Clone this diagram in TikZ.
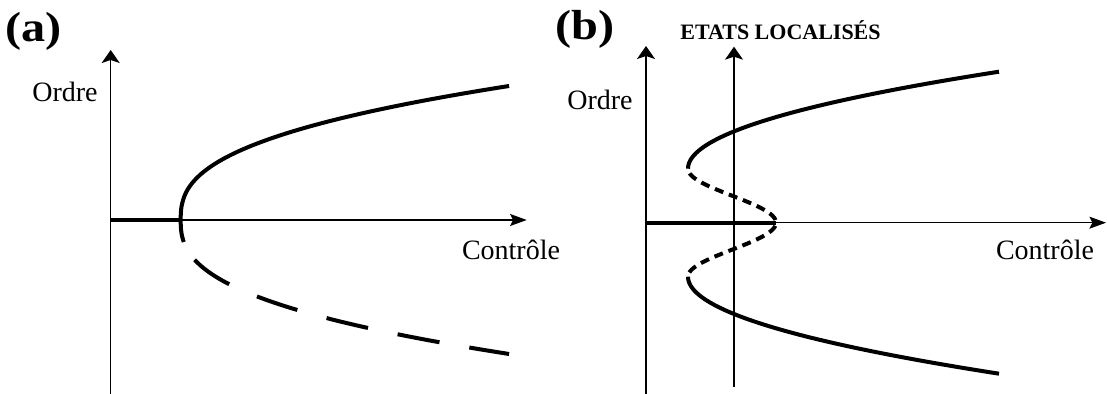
\documentclass[tikz,border=0pt]{standalone}
\usepackage{fontspec}
\setmainfont{Liberation Serif}
\usepackage{graphicx}
\usetikzlibrary{arrows.meta}
\tikzset{
  axisv/.style={line width=0.7pt, -{Stealth[length=6.5pt, width=9pt, inset=1.5pt]}},
  axish/.style={line width=0.7pt, -{Stealth[length=8.3pt, width=6pt, inset=1.5pt]}},
  branch/.style={line width=2pt},
  unstable/.style={line width=2pt, dash pattern=#1},
  lbl/.style={font=\fontsize{14}{16}\selectfont, anchor=base, inner sep=0pt},
  panel/.style={font=\fontsize{21}{23}\selectfont\bfseries, anchor=base, inner sep=0pt},
  note/.style={font=\fontsize{11}{13}\selectfont\bfseries, anchor=base, inner sep=0pt},
}

\begin{document}
\begin{tikzpicture}[x=0.5pt, y=-0.5pt]
\useasboundingbox (0,0) rectangle (1107,394);
% Panel labels and axis texts
\node[panel] (pa) at (33.5,42) {\scalebox{1.15}[1]{(a)}};
\node[panel] (pb) at (585,40) {\scalebox{1.15}[1]{(b)}};
\foreach \nm/\x/\y/\txt in {ordreA/65/102/Ordre, controleA/511/260/Contrôle,
  ordreB/600/110/Ordre, controleB/1045/260/Contrôle}{
  \node[lbl] (\nm) at (\x,\y) {\txt};
}
\node[note] (etats) at (780.5,39.3) {ETATS LOCALISÉS};
% Axes of (a)
\coordinate (oA) at (110.7,220);
\coordinate (bA) at (110.7,394);
\coordinate (yA) at (110.7,50);
\coordinate (xA) at (526.7,220);
\coordinate (vA) at (180.7,220);
\draw[axisv] (bA) -- (yA);
\draw[axish] (oA) -- (xA);
\draw[branch] (oA) -- (vA);
% Pitchfork of (a)
\draw[branch] plot[domain=134:-22, samples=80, variable=\s]
  ({180.7+328.3*pow((abs(\s)+0.01)/134,2.6)}, {220-\s});
\draw[unstable={on 21.3pt off 15.15pt}, dash phase=25.95pt] plot[domain=-22:-134, samples=60, variable=\s]
  ({180.7+328.3*pow((abs(\s)+0.01)/134,2.6)}, {220-\s});
% Axes of (b)
\coordinate (oB) at (646,222.7);
\coordinate (bB) at (646,394);
\coordinate (yB) at (646,46);
\coordinate (xB) at (1106,222.7);
\coordinate (sB) at (734,387);
\coordinate (tB) at (734,46.7);
\coordinate (vB) at (776,222.7);
\draw[axisv] (bB) -- (yB);
\draw[axisv, line width=0.55pt] (sB) -- (tB);
\draw[axish] (oB) -- (xB);
\draw[branch] (oB) -- (vB);
% S-shaped branch of (b)
\draw[branch] plot[domain=97:0, samples=50, variable=\v]
  ({688+311*(\v/97)^2}, {168.7-\v});
\draw[unstable={on 4.5pt off 3pt}, dash phase=5pt] plot[domain=54:-54, samples=109, variable=\s]
  ({688+44*(1-cos(180*(54-abs(\s))/54))}, {222.7-\s});
\draw[branch] plot[domain=0:97, samples=50, variable=\v]
  ({688+311*(\v/97)^2}, {276.7+\v});
\end{tikzpicture}
\end{document}
